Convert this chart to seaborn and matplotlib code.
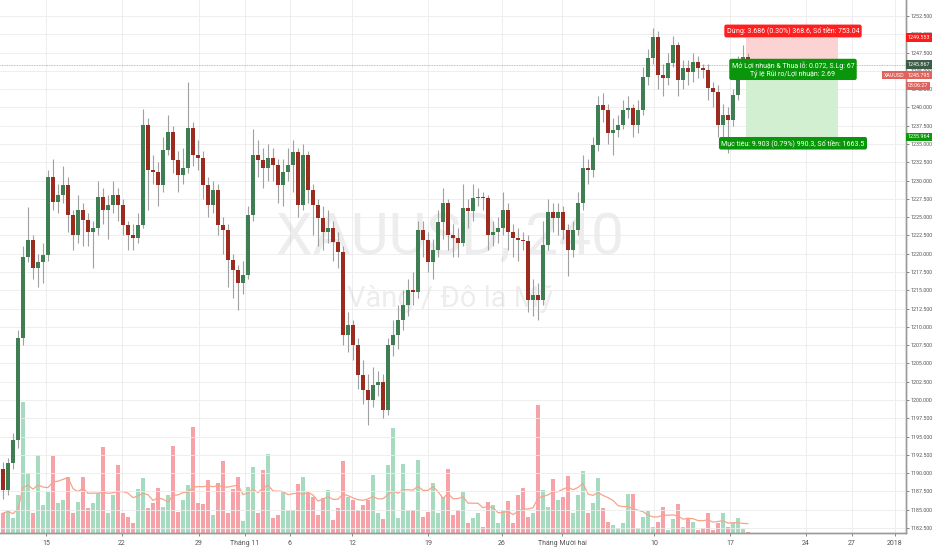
import matplotlib
matplotlib.use("Agg")
import matplotlib.pyplot as plt
import seaborn as sns
import numpy as np
import pandas as pd
from matplotlib.patches import Rectangle
from matplotlib.transforms import blended_transform_factory

# XAUUSD 240 - candles (open of each bar = previous close)
first_open = 1190.5
closes = [1187.7, 1191.4, 1194.5, 1208.5, 1219.5, 1221.9, 1218.0, 1218.9, 1219.8, 1230.5,
          1227.1, 1228.0, 1229.4, 1225.3, 1222.5, 1226.0, 1224.6, 1223.0, 1223.5, 1227.8,
          1226.0, 1226.7, 1228.0, 1226.7, 1223.9, 1222.6, 1222.2, 1223.9, 1237.6, 1231.5,
          1231.2, 1229.4, 1234.2, 1236.7, 1232.8, 1230.8, 1231.7, 1237.2, 1233.5, 1233.1,
          1229.4, 1226.7, 1228.7, 1223.9, 1223.2, 1219.1, 1217.8, 1216.0, 1217.1, 1225.3,
          1233.5, 1232.8, 1231.7, 1233.1, 1232.1, 1229.4, 1231.2, 1232.1, 1233.9, 1226.7,
          1233.5, 1228.7, 1226.7, 1224.9, 1223.0, 1223.5, 1221.6, 1220.2, 1208.9, 1210.3,
          1207.5, 1203.4, 1201.4, 1200.0, 1202.1, 1202.5, 1198.6, 1207.5, 1208.9, 1210.9,
          1213.0, 1215.0, 1214.8, 1223.2, 1221.9, 1218.9, 1220.5, 1224.3, 1226.9, 1222.6,
          1222.2, 1221.5, 1226.3, 1225.9, 1227.6, 1227.8, 1227.6, 1222.6, 1223.0, 1223.5,
          1226.0, 1223.0, 1222.2, 1221.9, 1221.7, 1213.7, 1214.4, 1213.7, 1221.2, 1225.7,
          1224.9, 1225.7, 1223.2, 1220.5, 1223.2, 1226.9, 1231.7, 1231.4, 1234.9, 1240.3,
          1239.7, 1236.5, 1236.9, 1237.6, 1239.7, 1239.9, 1237.6, 1239.6, 1244.2, 1246.8,
          1249.6, 1244.4, 1244.0, 1246.1, 1248.5, 1243.8, 1245.4, 1244.8, 1246.2, 1245.4,
          1245.1, 1242.7, 1242.1, 1237.6, 1239.0, 1238.3, 1241.7, 1246.5, 1246.9, 1245.8]
highs = [1191.5, 1192.0, 1195.5, 1209.5, 1221.0, 1226.4, 1222.5, 1220.0, 1221.5, 1231.5,
         1233.0, 1229.5, 1232.0, 1230.5, 1226.0, 1228.0, 1227.0, 1225.5, 1224.5, 1230.0,
         1229.0, 1228.0, 1230.0, 1229.0, 1227.5, 1224.5, 1224.0, 1225.5, 1239.8, 1238.5,
         1233.5, 1232.5, 1236.0, 1239.0, 1237.5, 1234.0, 1234.5, 1243.5, 1238.0, 1235.5,
         1234.0, 1230.5, 1230.0, 1229.5, 1225.0, 1224.0, 1220.0, 1218.5, 1219.0, 1226.5,
         1237.0, 1235.5, 1234.5, 1235.0, 1234.5, 1233.0, 1233.0, 1234.5, 1235.5, 1234.5,
         1235.0, 1234.0, 1229.5, 1227.5, 1226.5, 1226.0, 1224.5, 1223.0, 1221.0, 1212.0,
         1211.0, 1208.5, 1205.5, 1203.5, 1204.5, 1204.0, 1203.5, 1208.5, 1211.0, 1213.0,
         1215.0, 1216.5, 1217.5, 1224.5, 1224.5, 1223.0, 1222.0, 1226.0, 1229.0, 1227.5,
         1224.0, 1223.5, 1229.5, 1227.5, 1229.5, 1229.0, 1228.5, 1228.0, 1224.5, 1225.0,
         1228.5, 1227.0, 1224.0, 1223.5, 1223.0, 1222.5, 1216.5, 1216.0, 1224.5, 1227.5,
         1227.0, 1227.0, 1226.5, 1224.0, 1224.5, 1228.5, 1233.5, 1233.0, 1236.0, 1241.5,
         1242.0, 1240.5, 1238.5, 1239.0, 1241.0, 1241.5, 1240.5, 1241.0, 1245.5, 1248.0,
         1250.9, 1250.5, 1246.0, 1247.5, 1249.8, 1249.0, 1246.5, 1246.5, 1247.5, 1247.0,
         1246.0, 1246.0, 1243.5, 1243.0, 1240.5, 1240.0, 1242.5, 1247.0, 1248.5, 1247.5]
lows = [1186.5, 1187.0, 1190.5, 1193.5, 1207.5, 1218.8, 1216.5, 1215.5, 1216.0, 1219.0,
        1226.0, 1225.5, 1227.0, 1223.0, 1220.5, 1221.5, 1221.0, 1221.0, 1218.0, 1222.5,
        1224.0, 1222.0, 1225.5, 1224.5, 1222.5, 1220.5, 1220.5, 1221.5, 1223.5, 1226.0,
        1229.5, 1226.5, 1228.5, 1233.5, 1231.0, 1228.5, 1229.5, 1231.0, 1232.0, 1231.5,
        1227.5, 1225.0, 1225.5, 1222.5, 1220.0, 1215.5, 1214.0, 1212.3, 1214.5, 1216.5,
        1224.5, 1230.5, 1229.0, 1230.0, 1230.0, 1227.0, 1226.5, 1230.0, 1228.5, 1225.0,
        1226.0, 1227.0, 1222.5, 1221.0, 1220.5, 1221.5, 1219.0, 1218.0, 1207.5, 1206.5,
        1205.5, 1201.5, 1199.5, 1196.6, 1199.0, 1200.5, 1197.5, 1198.0, 1206.0, 1207.0,
        1209.5, 1211.5, 1213.0, 1214.0, 1219.5, 1217.5, 1216.5, 1219.5, 1222.0, 1220.5,
        1219.5, 1219.5, 1221.0, 1223.5, 1224.5, 1226.5, 1226.0, 1220.5, 1221.0, 1221.5,
        1222.5, 1220.5, 1219.5, 1219.0, 1220.5, 1212.0, 1211.5, 1211.0, 1213.0, 1220.5,
        1223.0, 1222.5, 1222.0, 1217.0, 1219.5, 1222.5, 1226.0, 1229.5, 1230.5, 1234.0,
        1238.0, 1235.0, 1233.5, 1236.0, 1237.0, 1238.5, 1236.0, 1236.5, 1239.0, 1243.0,
        1246.0, 1242.5, 1241.5, 1243.0, 1245.5, 1241.5, 1242.5, 1243.0, 1243.5, 1244.0,
        1244.0, 1241.0, 1240.0, 1236.0, 1234.5, 1233.8, 1237.5, 1241.0, 1245.5, 1245.0]
volume = [20, 23, 15, 38, 131, 60, 20, 78, 28, 41,
          77, 30, 33, 56, 20, 31, 56, 25, 30, 40,
          86, 20, 38, 68, 20, 16, 10, 44, 55, 25,
          30, 45, 26, 38, 87, 21, 33, 48, 106, 30,
          29, 53, 18, 50, 72, 20, 44, 56, 12, 46,
          66, 20, 63, 79, 15, 18, 41, 23, 23, 49,
          56, 40, 36, 18, 35, 43, 13, 25, 72, 36,
          33, 23, 28, 33, 58, 20, 14, 68, 105, 15,
          69, 23, 23, 73, 16, 21, 50, 20, 36, 64,
          18, 23, 41, 10, 15, 20, 6, 31, 28, 10,
          23, 32, 10, 38, 45, 16, 20, 128, 43, 26,
          54, 33, 36, 57, 20, 38, 62, 20, 30, 55,
          25, 11, 8, 5, 10, 39, 39, 5, 16, 22,
          6, 11, 26, 3, 14, 29, 6, 15, 11, 3,
          5, 20, 3, 10, 20, 6, 10, 15, 4, 1]

tick_pos = [8.6, 23.8, 39.2, 48.4, 57.4, 69.8, 85.0, 99.8, 111.8, 130.2, 145.4, 160.6, 169.8, 178.4]
tick_labels = ["15", "22", "29", "Tháng 11", "6", "12", "19", "26", "Tháng Mười hai",
               "10", "17", "24", "27", "2018"]

# short position tool
entry, stop, target, last = 1245.867, 1249.553, 1235.964, 1245.795
pos_from, pos_to = 148.6, 167.0

UP, DOWN, WICK = "#3f7d52", "#9c2b1f", "#a0a0a0"
VUP, VDOWN = "#a6dbc0", "#f5a3a8"

sns.set_theme(style="white")
plt.rcParams["font.family"] = ["Roboto", "DejaVu Sans"]

df = pd.DataFrame({"close": closes, "high": highs, "low": lows, "volume": volume})
df["open"] = [first_open] + closes[:-1]
df["i"] = np.arange(len(df))
df["up"] = df["close"] >= df["open"]
df["vol_ma"] = df["volume"].rolling(10, min_periods=1).mean()

fig = plt.figure(figsize=(9.32, 5.5), dpi=100)
ax_vol = fig.add_axes([0, 17 / 550, 906 / 932, 533 / 550])
ax = ax_vol.twinx()

# volume pane
ax_vol.bar(df["i"], df["volume"], width=0.85, linewidth=0,
           color=np.where(df["up"], VUP, VDOWN), zorder=2)
sns.lineplot(data=df, x="i", y="vol_ma", ax=ax_vol, color="#f6a48c", lw=0.9, zorder=3)
ax_vol.set_ylim(0, 533)
ax_vol.set_yticks([])
ax_vol.set_ylabel("")
ax_vol.set_xlabel("")
ax_vol.set_xlim(-0.6, 180.6)
ax_vol.set_xticks(tick_pos, tick_labels)
ax_vol.tick_params(axis="x", bottom=True, labelbottom=True, labelsize=5, length=2.5,
                   width=0.5, pad=2.5, colors="#555555")
ax_vol.grid(True, axis="x", color="#ebebeb", lw=0.6, zorder=0)
ax_vol.set_axisbelow(True)

# position tool
ax.add_patch(Rectangle((pos_from, entry), pos_to - pos_from, stop - entry,
                       facecolor="#fcd3d3", edgecolor="none", zorder=1))
ax.add_patch(Rectangle((pos_from, target), pos_to - pos_from, entry - target,
                       facecolor="#d2efd2", edgecolor="none", zorder=1))

# candles
ax.vlines(df["i"], df["low"], df["high"], color=WICK, lw=0.8, zorder=3)
body_lo = np.minimum(df["open"], df["close"])
body_h = np.maximum(np.abs(df["close"] - df["open"]), 0.2)
ax.bar(df["i"], body_h, bottom=body_lo, width=0.62, linewidth=0,
       color=np.where(df["up"], UP, DOWN), zorder=4)

ax.axhline(last, color="#ec8a8a", lw=0.6, ls=(0, (1, 1)), zorder=2)

# watermark
ax.text(0.497, 0.553, "XAUUSD, 240", transform=ax.transAxes, ha="center", va="center",
        fontsize=42, color="#000000", alpha=0.07, zorder=0)
ax.text(0.497, 0.44, "Vàng / Đô la Mỹ", transform=ax.transAxes, ha="center", va="center",
        fontsize=21, color="#000000", alpha=0.07, zorder=0)

# position labels
box = dict(boxstyle="round,pad=0.35,rounding_size=0.3", ec="none")
ax.text(158, 1250.45, "Dừng: 3.686 (0.30%) 368.6, Số tiền: 753.04", ha="center", va="center",
        fontsize=5, color="white", zorder=6, bbox=dict(box, fc="#ff1f1f"))
ax.text(158, 1245.2, "Mở Lợi nhuận & Thua lỗ: 0.072, S.Lg: 67\nTỷ lệ Rủi ro/Lợi nhuận: 2.69",
        ha="center", va="center", fontsize=5, color="white", linespacing=1.0, zorder=6,
        bbox=dict(box, fc="#0a960a"))
ax.text(158, 1235.1, "Mục tiêu: 9.903 (0.79%) 990.3, Số tiền: 1663.5", ha="center", va="center",
        fontsize=5, color="white", zorder=6, bbox=dict(box, fc="#0a960a"))

# price scale
ax.set_ylim(1181.81, 1254.69)
ax.set_yticks(np.arange(1182.5, 1253.0, 2.5))
ax.yaxis.set_major_formatter(matplotlib.ticker.FormatStrFormatter("%.3f"))
ax.grid(True, axis="y", color="#ebebeb", lw=0.6, zorder=0)
ax.set_axisbelow(True)
ax.tick_params(axis="y", right=True, left=False, labelright=True, labelleft=False,
               labelsize=3.9, length=2.5, width=0.5, pad=1.0, colors="#555555")
ax.patch.set_alpha(0)
for a in (ax, ax_vol):
    for side in ("top", "left"):
        a.spines[side].set_visible(False)
    for side in ("right", "bottom"):
        a.spines[side].set_color("#9a9a9a")
        a.spines[side].set_linewidth(1)

# the last date label is cut by the price scale corner
fig.patches.append(Rectangle((907 / 932, 0), 25 / 932, 16 / 550, transform=fig.transFigure,
                             facecolor="white", edgecolor="none", zorder=5))

# price tags on the right scale
trans = blended_transform_factory(ax.transAxes, ax.transData)
def tag(y, text, color, dy=0, x=1.002, ha="left"):
    ax.annotate(text, xy=(x, y), xycoords=trans, xytext=(0, dy), textcoords="offset points",
                ha=ha, va="center", fontsize=3.9, color="white", annotation_clip=False, zorder=8,
                bbox=dict(boxstyle="square,pad=0.3", fc=color, ec="none"))

tag(stop, "1249.553", "#ff1a1a")
tag(entry, "1245.867", "#3c5c48")
tag(last, "1245.795", "#e0625c", dy=-7.2)
tag(last, "XAUUSD", "#e0625c", dy=-7.2, x=0.998, ha="right")
tag(last, "03:06:27", "#e0625c", dy=-15.0)
tag(target, "1235.964", "#0a9a0a")

fig.savefig("out.png", dpi=100)
